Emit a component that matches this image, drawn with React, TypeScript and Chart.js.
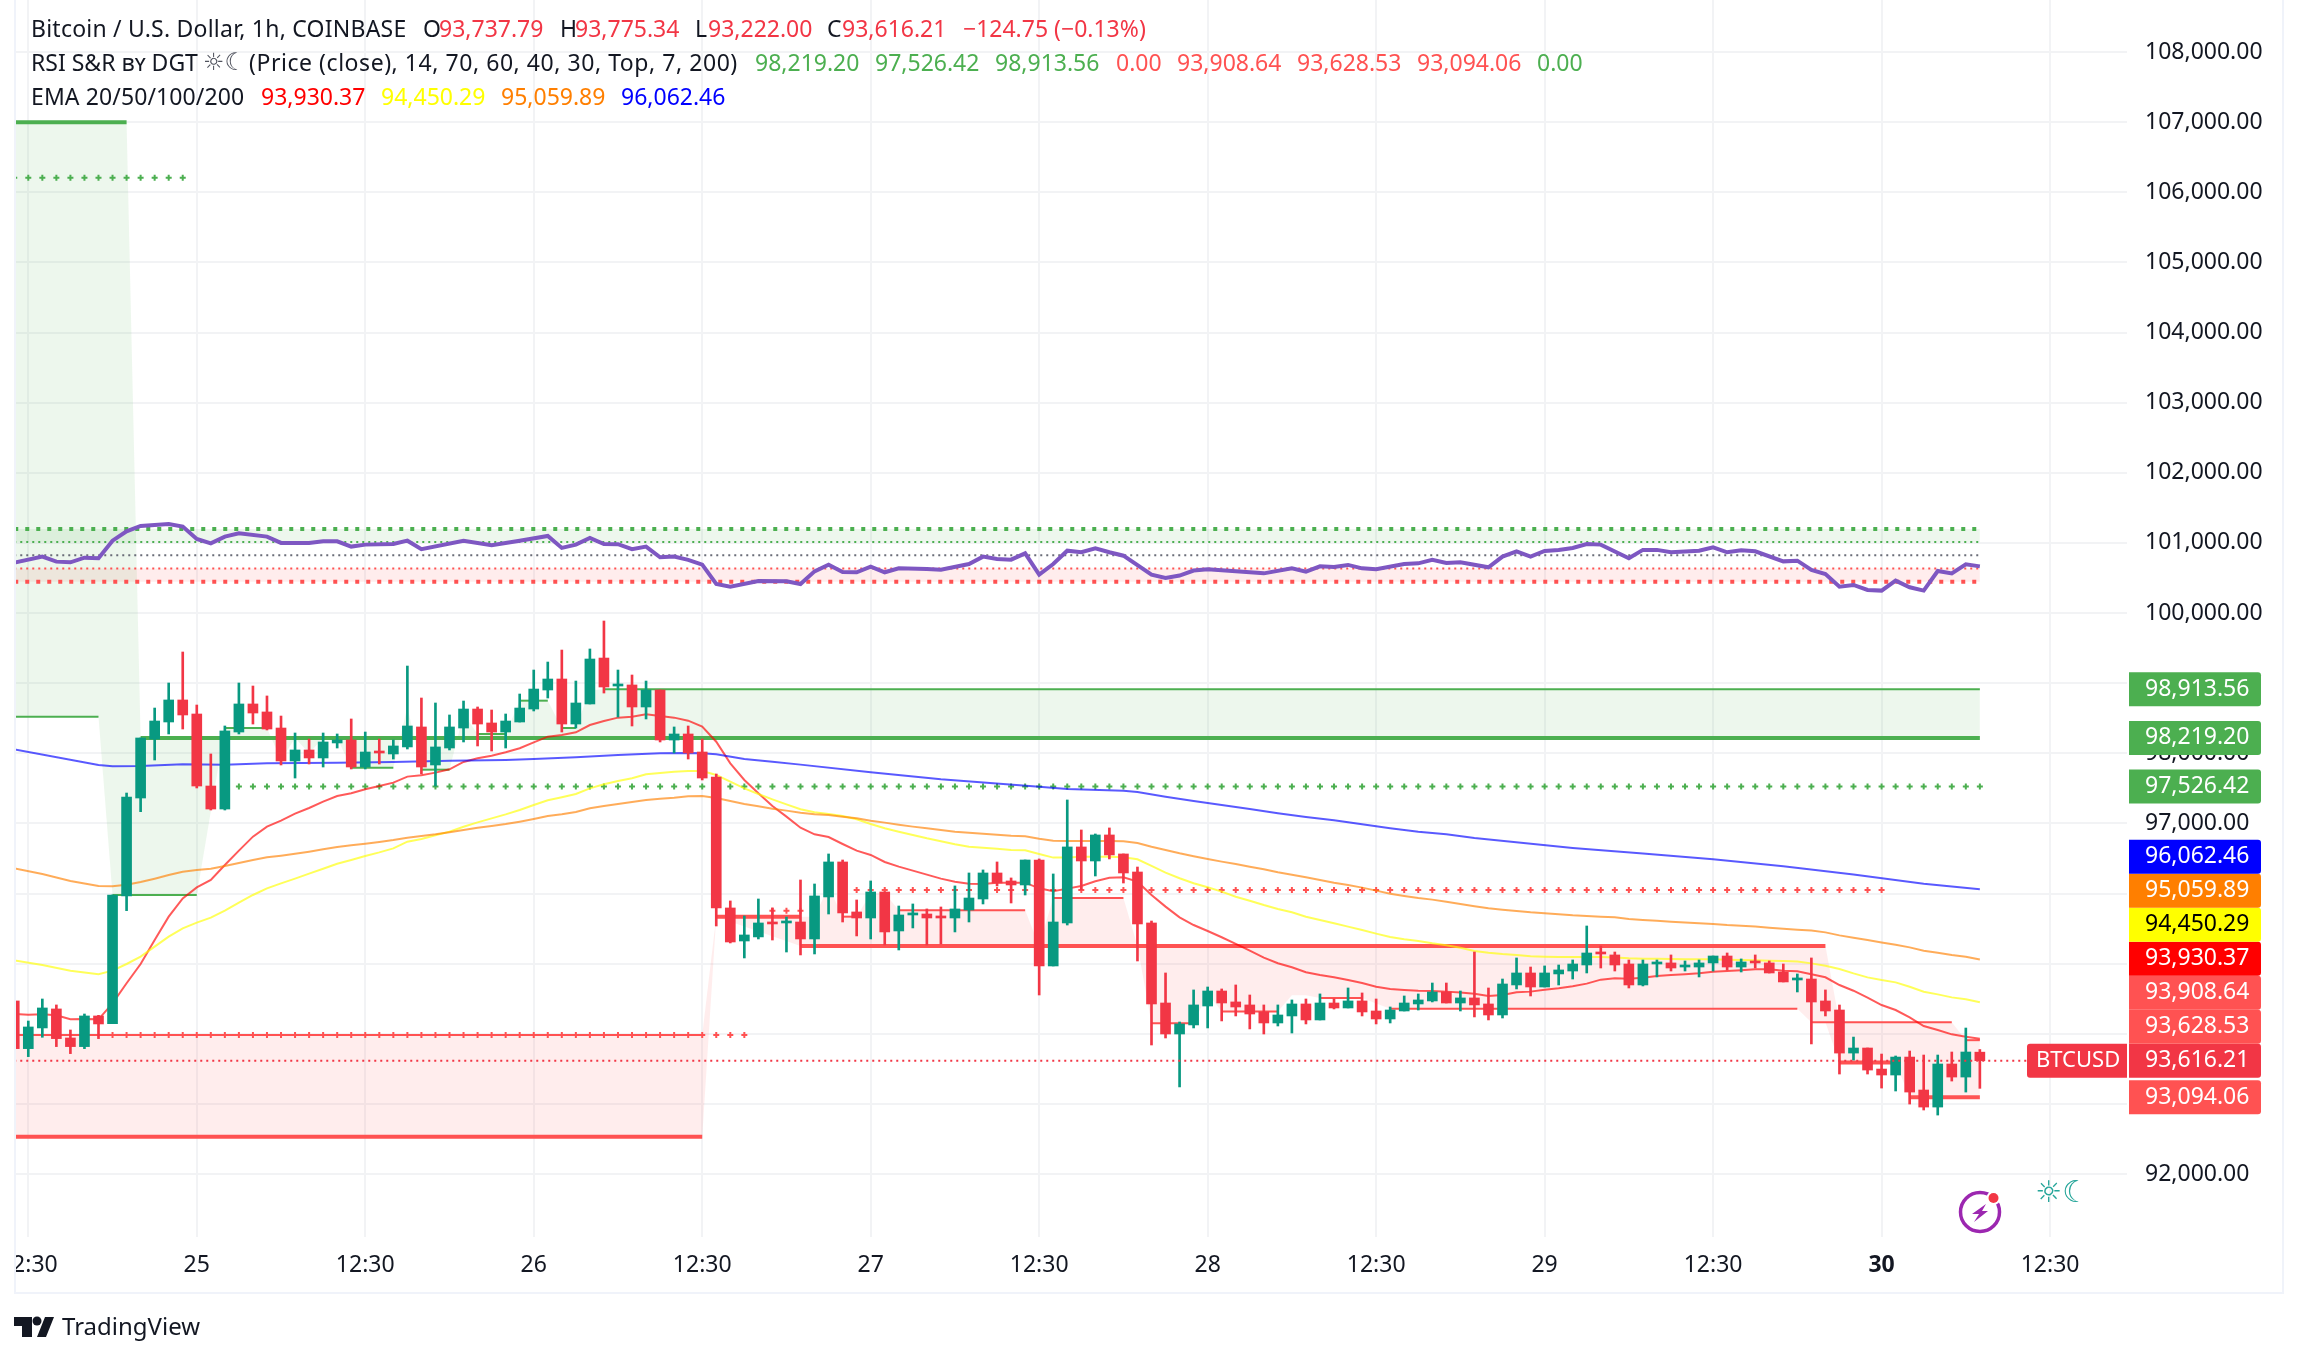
import React, { useEffect, useRef } from 'react';
import { Chart, registerables } from 'chart.js';

Chart.register(...registerables);

const FONT = '"Noto Sans"';
const INK = '#131722';
const UP = '#089981';
const DOWN = '#F23645';
const GREEN = '#4CAF50';
const RED = '#FF5252';
const GRID = '#F2F3F5';
const GREEN_FILL = 'rgba(76,175,80,0.1)';
const RED_FILL = 'rgba(255,82,82,0.1)';

// hourly candles, first one sits at bar -1 (cut off by the left edge)
const opens = [
  94468,93788,94083,94354,93940,93817,94254,94144,95965,97362,
  98203,98446,98760,98560,97533,97205,98303,98703,98589,98360,
  97890,98047,97933,98147,98189,97804,98032,97990,98090,98375,
  97833,98075,98360,98631,98432,98303,98446,98631,98902,99059,
  98417,98703,99358,98959,98974,98660,98902,98189,98275,98018,
  97662,95794,95323,95381,95594,95580,95594,95352,95951,96450,
  95737,95651,96022,95466,95694,95708,95680,95651,95765,95922,
  96293,96179,96122,96478,94967,95580,96664,96464,96835,96564,
  96307,95580,94439,93997,94126,94396,94610,94454,94411,94311,
  94154,94254,94425,94197,94439,94368,94468,94325,94211,94325,
  94425,94468,94596,94439,94511,94425,94268,94696,94867,94667,
  94853,94895,94981,95166,95124,94995,94696,94995,95010,94952,
  94952,95010,95109,94952,95038,95010,94881,94767,94781,94468,
  94339,93725,93797,93497,93412,93668,93198,92955,93569,93383,93737.79,
];
const highs = [
  94468,94182,94496,94411,94054,94282,94263,95979,97433,98218,
  98645,99002,99444,98688,97990,98389,99002,98959,98817,98531,
  98289,98203,98289,98275,98489,98303,98203,98189,99244,98788,
  98717,98546,98745,98660,98617,98560,98845,99187,99301,99472,
  99030,99487,99886,99187,99116,99030,98902,98375,98389,98203,
  97704,95894,95680,95922,95794,95665,96193,96136,96564,96478,
  95908,96179,96022,95822,95851,95780,95808,96108,96293,96336,
  96450,96222,96478,96493,96279,97334,96906,96849,96935,96564,
  96378,95608,94867,94168,94625,94667,94639,94696,94553,94411,
  94411,94482,94496,94568,94496,94653,94582,94496,94382,94539,
  94568,94724,94724,94610,95166,94653,94781,95081,94952,94967,
  94981,95052,95537,95252,95166,95052,95052,95052,95124,95038,
  95052,95109,95152,95067,95124,95038,94995,94853,95081,94625,
  94410,93953,93797,93711,93683,93754,93697,93697,93740,94082,93775.34,
];
const lows = [
  93788,93674,93950,93817,93717,93788,93931,94144,95756,97167,
  97904,98275,98346,97505,97191,97191,98275,98417,98332,97833,
  97647,97847,97804,98075,97776,97776,97847,97918,98061,97704,
  97533,98047,98161,98104,98032,98075,98446,98603,98788,98303,
  98360,98703,98859,98517,98389,98489,98161,98004,97918,97619,
  95537,95295,95081,95352,95337,95166,95124,95138,95708,95594,
  95395,95352,95266,95195,95509,95266,95281,95452,95594,95851,
  96108,95865,95979,94553,94967,95551,96051,96250,96493,96150,
  95038,93840,93940,93242,94083,94083,94183,94254,94069,93997,
  94111,94011,94140,94197,94354,94368,94254,94140,94154,94325,
  94339,94454,94439,94325,94240,94197,94225,94639,94539,94667,
  94696,94781,94867,94938,94895,94653,94682,94810,94895,94895,
  94810,94895,94910,94881,94938,94867,94739,94596,93855,94254,
  93426,93626,93426,93226,93184,92998,92913,92841,93326,93169,93222,
];
const closes = [
  93788,94097,94368,93931,93817,94254,94140,95979,97376,98218,
  98460,98760,98546,97533,97205,98318,98703,98574,98346,97890,
  98047,97933,98161,98189,97804,98018,98004,98104,98389,97804,
  98090,98375,98631,98417,98303,98460,98645,98916,99059,98417,
  98717,99344,98945,98988,98660,98902,98189,98275,98004,97647,
  95794,95309,95409,95580,95566,95608,95352,95965,96450,95723,
  95651,96022,95452,95694,95723,95651,95651,95780,95936,96293,
  96150,96122,96478,94967,95594,96664,96464,96835,96550,96293,
  95566,94425,93997,94140,94411,94610,94439,94382,94282,94154,
  94268,94425,94197,94439,94368,94468,94311,94211,94339,94439,
  94482,94596,94439,94511,94411,94268,94710,94867,94667,94867,
  94910,94995,95152,95138,94981,94696,94995,95024,94938,94981,
  95010,95109,94952,95024,95010,94867,94739,94796,94453,94325,
  93725,93797,93483,93412,93668,93169,92955,93569,93383,93740,93616.21,
];

// EMA 20 has a reading for every bar, starting at bar -1
const ema20 = [
  94282,94273,94278,94263,94206,94211,94206,94434,94720,94995,
  95337,95670,95931,96088,96193,96407,96611,96811,96953,97039,
  97139,97220,97310,97391,97429,97486,97533,97581,97667,97686,
  97724,97771,97876,97928,97966,98014,98071,98156,98237,98261,
  98299,98403,98460,98508,98522,98556,98531,98508,98465,98379,
  98165,97857,97619,97429,97248,97096,96939,96844,96806,96706,
  96611,96550,96450,96383,96326,96269,96212,96169,96141,96136,
  96155,96155,96155,96074,96032,96070,96108,96174,96226,96231,
  96169,95979,95813,95661,95551,95466,95376,95281,95185,95086,
  95005,94948,94877,94838,94805,94767,94724,94672,94639,94625,
  94615,94610,94601,94587,94572,94539,94553,94591,94601,94629,
  94648,94677,94715,94772,94791,94786,94800,94824,94838,94848,
  94862,94886,94895,94905,94919,94919,94900,94891,94848,94805,
  94695,94614,94514,94410,94339,94234,94110,94053,93992,93958,93930.37,
];

// EMA 50 and 100 read at bars -1, 1, 3, then every bar from 5
const emaHeadBars = [-1, 1, 3];
const ema50 = [
  95048,94981,94900,
  94848,94900,94995,95100,95242,95385,95504,95585,95656,95756,
  95870,95979,96074,96145,96212,96283,96354,96425,96478,96535,
  96587,96644,96739,96778,96830,96882,96953,97015,97072,97129,
  97191,97262,97329,97372,97419,97500,97557,97605,97643,97700,
  97719,97738,97747,97747,97690,97595,97500,97419,97343,97272,
  97201,97158,97134,97106,97058,96992,96930,96882,96835,96787,
  96744,96702,96668,96654,96640,96621,96616,96564,96512,96512,
  96526,96526,96526,96516,96488,96393,96298,96217,96146,96089,
  96027,95955,95898,95836,95780,95732,95670,95623,95575,95528,
  95480,95428,95380,95347,95323,95290,95262,95228,95181,95157,
  95138,95124,95105,95100,95095,95095,95095,95095,95086,95076,
  95071,95071,95067,95062,95062,95062,95057,95052,95048,95043,
  95038,95029,95004,94971,94923,94861,94804,94766,94733,94671,
  94600,94562,94519,94491,94450.29,
];
const ema100 = [
  96359,96278,96179,
  96107,96102,96126,96164,96212,96264,96311,96335,96354,96392,
  96435,96478,96516,96540,96568,96597,96630,96663,96687,96711,
  96735,96763,96796,96820,96844,96873,96906,96939,96963,96991,
  97025,97063,97105,97129,97163,97215,97248,97277,97305,97334,
  97353,97367,97386,97391,97362,97319,97277,97244,97210,97182,
  97153,97129,97120,97096,97072,97039,97011,96982,96954,96930,
  96906,96882,96868,96854,96839,96825,96816,96782,96754,96749,
  96749,96749,96749,96744,96721,96668,96621,96573,96531,96493,
  96455,96421,96383,96345,96302,96269,96231,96193,96155,96122,
  96084,96041,95998,95965,95936,95913,95884,95851,95818,95789,
  95770,95751,95732,95718,95703,95689,95680,95670,95661,95637,
  95623,95613,95599,95585,95575,95566,95551,95542,95528,95513,
  95499,95485,95471,95446,95403,95370,95337,95303,95270,95232,
  95185,95156,95123,95099,95059.89,
];
const ema200Bars = [-1,5,6,8,11,14,17,22,26,30,34,36,39,42,45,47,48,49,51,53,55,60,65,72,74,78,79,81,83,85,87,89,91,93,95,97,99,101,103,110,115,120,125,130,135,139];
const ema200 = [98056,97833,97814,97818,97842,97838,97857,97866,97875,97895,97905,97918,97942,97975,97999,98004,97999,97985,97918,97880,97838,97730,97630,97524,97491,97467,97448,97381,97320,97263,97206,97144,97091,97044,96987,96930,96882,96844,96792,96650,96570,96490,96390,96270,96140,96062.46];

// RSI readings, overlaid on the price pane
const rsiBars = [-1,1,2,3,4,5,6,7,8,10,11,12,13,14,15,17,18,20,21,22,23,24,26,27,28,31,33,35,37,38,39,40,41,42,43,44,45,46,47,48,49,50,52,54,55,56,57,58,59,60,61,62,64,65,67,68,69,70,71,72,73,74,75,76,77,78,80,81,82,83,84,88,90,91,92,93,94,95,96,98,99,100,101,102,104,105,106,107,108,109,110,111,112,114,115,116,117,119,120,121,122,123,125,126,127,128,129,130,131,132,133,134,135,136,137,138,139];
const rsiValues = [44.4,49,45.2,44.7,48.2,47.7,61.1,68.2,72.3,73.8,71.8,62.4,59.1,64.2,66.7,64.2,59.4,59.4,60.6,60.6,56.6,58.1,58.6,61.1,54.6,61.1,57.6,61.1,64.7,55.6,58.1,63.2,58.6,58.4,54.6,56.6,48.5,49,46.5,42.9,28.2,26.2,30.5,30.3,28.2,37.8,42.9,37.3,37.1,41.4,37.1,40.1,39.6,39.1,43.4,49,47.2,46.7,51.5,35.3,43.4,53.5,52.3,55.3,52.3,49.7,35.3,32.8,34.6,38.4,39.4,36.3,40.1,37.6,41.6,41.1,42.7,40.1,39.4,43.4,43.9,46.5,44.2,44.7,40.9,49,53,49,53.3,54.1,55.6,58.6,58.1,47.7,54.1,54.1,52.3,53.5,56.1,52.3,53.8,53,45.4,45.9,38.9,35.8,26.2,27.5,23.7,23.2,30.8,25.7,23.2,38.1,36.3,43.2,41.6];
const rsiLevels = [70, 60, 50, 40, 30];

// support / resistance zones
const greenZoneBars = [-1,5,6,7,8,12,14,17,18,19,20,21,22,23,26,27,28,30,31,32,34,35,37,38,39,40,41,139];
const greenZoneTop = [107000,107000,107000,107000,98219.2,98219.2,98219.2,98219.2,98219.2,98219.2,98219.2,98219.2,98219.2,98219.2,98219.2,98219.2,98219.2,98219.2,98219.2,98219.2,98219.2,98219.2,98219.2,98219.2,98219.2,98219.2,98219.2,98219.2];
const greenZoneLow = [98522,98522,95979,95979,95979,95979,98360,98360,97903,98219,98000,98219,98219,97795,97795,98664,97766,97766,98560,98275,98275,98750,98750,98360,98360,98900,98913.56,98913.56];

const redZoneBars = [-1,48,49,55,56,57,58,59,60,61,62,71,72,73,78,79,80,83,84,85,89,90,91,92,95,96,97,126,127,128,129,133,134,137,138,139];
const redZoneTop = [93983,93983,95670,95670,95670,96098,95670,95670,96003,96003,95761,95761,95252,95936,95936,95252,95252,95252,95252,95252,95252,95252,95252,95252,95252,95252,95252,95252,95252,95252,94163,94163,94163,94163,93908.64,93908.64];
const redZoneLow = [92530,92530,95670,95252,95252,95252,95252,95252,95252,95252,95252,95252,95252,95252,95252,95252,94149,94149,94577,94316,94316,94550,94550,94511,94511,94430,94358,94358,94163,94163,93592,93592,93094.06,93094.06,93094.06,93094.06];

const greenThick = [[-1, 7, 107000], [8, 139, 98219.2]];
const greenThin = [[-1, 5, 98522], [6, 12, 95979], [14, 17, 98360], [23, 26, 97795], [28, 30, 97766], [32, 34, 98275], [35, 37, 98750], [38, 39, 98360], [41, 139, 98913.56]];
const redThick = [[-1, 48, 92530], [49, 55, 95670], [55, 128, 95252], [129, 133, 93592], [134, 139, 93094.06]];
const redThin = [[-1, 48, 93983], [58, 59, 95670], [62, 71, 95761], [73, 78, 95936], [80, 83, 94149], [85, 89, 94316], [92, 95, 94511], [97, 126, 94358], [127, 137, 94163], [138, 139, 93908.64]];

// dotted rows of crosses: first bar, last bar, price
const greenCrosses = [[-1, 11, 106208], [15, 139, 97526.42]];
const redCrosses = [[6, 51, 93983], [53, 55, 95756], [59, 132, 96050]];

const lastPrice = 93616.21;
const priceTicks = [92000,93000,94000,95000,96000,97000,98000,99000,100000,101000,102000,103000,104000,105000,106000,107000,108000];
const timeTickBars = [0,12,24,36,48,60,72,84,96,108,120,132,144];
const timeLabels = ['12:30','25','12:30','26','12:30','27','12:30','28','12:30','29','12:30','30','12:30'];

// axis tags, low to high: price, box colour, text colour
const tagRows = [
  [93094.06, RED, '#fff'],
  [93616.21, DOWN, '#fff'],
  [93628.53, RED, '#fff'],
  [93908.64, RED, '#fff'],
  [93930.37, '#FF0000', '#fff'],
  [94450.29, '#FFFF00', '#000'],
  [95059.89, '#FF7F00', '#fff'],
  [96062.46, '#0000FF', '#fff'],
  [97526.42, GREEN, '#fff'],
  [98219.2, GREEN, '#fff'],
  [98913.56, GREEN, '#fff'],
] as [number, string, string][];

// text, x, y, colour, letter spacing
const headerRows = [
  ['Bitcoin / U.S. Dollar, 1h, COINBASE', 31, 30, INK, 0.23],
  ['O', 423, 30, INK, 0], ['93,737.79', 439, 30, DOWN, 0],
  ['H', 560, 30, INK, 0], ['93,775.34', 575, 30, DOWN, 0],
  ['L', 695, 30, INK, 0], ['93,222.00', 708, 30, DOWN, 0],
  ['C', 827, 30, INK, 0], ['93,616.21', 842, 30, DOWN, 0],
  ['\u2212124.75 (\u22120.13%)', 963, 30, DOWN, 0],
  ['RSI S&R \u0299\u028f DGT', 31, 64, INK, 0],
  ['(Price (close), 14, 70, 60, 40, 30, Top, 7, 200)', 249, 64, INK, 0.55],
  ['98,219.20', 755, 64, GREEN, 0], ['97,526.42', 875, 64, GREEN, 0], ['98,913.56', 995, 64, GREEN, 0],
  ['0.00', 1116, 64, RED, 0], ['93,908.64', 1177, 64, RED, 0], ['93,628.53', 1297, 64, RED, 0],
  ['93,094.06', 1417, 64, RED, 0], ['0.00', 1537, 64, GREEN, 0],
  ['EMA 20/50/100/200', 31, 98, INK, 0.1],
  ['93,930.37', 261, 98, '#FF0000', 0], ['94,450.29', 381, 98, '#FFFF00', 0],
  ['95,059.89', 501, 98, '#FF7F00', 0], ['96,062.46', 621, 98, '#0000FF', 0],
] as [string, number, number, string, number][];

const rsiToPrice = (rsi: number) => 100823 + (rsi - 50) * 18.79;
const money = (v: number) => v.toLocaleString('en-US', { minimumFractionDigits: 2, maximumFractionDigits: 2 });

const overlay = {
  id: 'overlay',
  beforeDraw(chart: any) {
    const { ctx, width, height } = chart;
    ctx.save();
    ctx.fillStyle = '#fff';
    ctx.fillRect(0, 0, width, height);
    ctx.restore();
  },
  afterDraw(chart: any) {
    const { ctx, height } = chart;
    const y = chart.scales.y;
    ctx.save();

    // left edge cuts the first time label
    ctx.fillStyle = '#fff';
    ctx.fillRect(0, 0, 14, height);
    ctx.fillStyle = '#F0F3FA';
    ctx.fillRect(14, 0, 2, 1294);
    ctx.fillRect(14, 1292, 2270, 2);
    ctx.fillRect(2282, 0, 2, 1294);

    ctx.textBaseline = 'middle';
    ctx.font = `23px ${FONT}`;
    headerRows.forEach(([text, x, rowY, color, spacing]) => {
      ctx.letterSpacing = `${spacing}px`;
      ctx.fillStyle = color;
      ctx.fillText(text, x, rowY);
    });
    ctx.letterSpacing = '0px';
    ctx.fillStyle = '#50535E';
    ctx.font = '24px "DejaVu Sans"';
    ctx.fillText('\u263c\u263e', 203, 64);

    // price tags push each other upward when they would overlap
    ctx.font = `23px ${FONT}`;
    let prev = Infinity;
    tagRows.forEach(([value, bg, fg]) => {
      const cy = Math.min(y.getPixelForValue(value), prev - 34);
      prev = cy;
      ctx.fillStyle = bg;
      ctx.beginPath();
      ctx.roundRect(2129, cy - 17, 132, 34, [0, 3, 3, 0]);
      ctx.fill();
      ctx.fillStyle = fg;
      ctx.fillText(money(value), 2145, cy);
    });

    const py = y.getPixelForValue(lastPrice);
    ctx.fillStyle = DOWN;
    ctx.beginPath();
    ctx.roundRect(2027, py - 17, 100, 34, [3, 0, 0, 3]);
    ctx.fill();
    ctx.fillStyle = '#fff';
    ctx.font = `22px ${FONT}`;
    ctx.fillText('BTCUSD', 2036, py);

    // sun and moon mark
    ctx.fillStyle = '#26A69A';
    ctx.font = '30px "DejaVu Sans"';
    ctx.textAlign = 'center';
    ctx.fillText('\u263c\u263e', 2062, 1194);
    ctx.textAlign = 'left';

    // purple bolt badge
    ctx.strokeStyle = '#9C27B0';
    ctx.lineWidth = 3.5;
    ctx.beginPath();
    ctx.arc(1980, 1212, 19.5, 0, Math.PI * 2);
    ctx.stroke();
    ctx.fillStyle = '#9C27B0';
    ctx.beginPath();
    [[1986, 1204], [1972, 1214], [1979, 1214], [1974, 1222], [1988, 1211], [1982, 1211]].forEach(([a, b], i) => (i ? ctx.lineTo(a, b) : ctx.moveTo(a, b)));
    ctx.closePath();
    ctx.fill();
    ctx.fillStyle = '#fff';
    ctx.beginPath();
    ctx.arc(1993.5, 1198, 7, 0, Math.PI * 2);
    ctx.fill();
    ctx.fillStyle = DOWN;
    ctx.beginPath();
    ctx.arc(1993.5, 1198, 5, 0, Math.PI * 2);
    ctx.fill();

    // TradingView logo
    ctx.fillStyle = INK;
    ctx.fillRect(14, 1317, 18, 9);
    ctx.fillRect(22, 1317, 10, 20);
    ctx.beginPath();
    ctx.arc(37, 1321, 4.5, 0, Math.PI * 2);
    ctx.fill();
    ctx.beginPath();
    ctx.moveTo(45, 1317);
    ctx.lineTo(54, 1317);
    ctx.lineTo(46, 1337);
    ctx.lineTo(37, 1337);
    ctx.closePath();
    ctx.fill();
    ctx.font = `24px ${FONT}`;
    ctx.fillText('TradingView', 62, 1328);
    ctx.restore();
  },
};

const levelSegment = ([from, to, value]: number[], color: string, width: number, order: number, dash: number[] = []) => ({
  type: 'line',
  data: [{ x: from, y: value }, { x: to, y: value }],
  borderColor: color,
  borderWidth: width,
  borderDash: dash,
  pointRadius: 0,
  order,
});

const curve = (bars: number[], values: number[], color: string, width: number, order: number) => ({
  type: 'line',
  data: bars.map((x, i) => ({ x, y: values[i] })),
  borderColor: color,
  borderWidth: width,
  pointRadius: 0,
  tension: 0,
  order,
});

const crossRow = ([from, to, value]: number[], color: string, order: number) => {
  const data: { x: number; y: number }[] = [];
  for (let x = from; x <= to; x++) data.push({ x, y: value });
  return {
    type: 'line',
    data,
    showLine: false,
    pointStyle: 'cross',
    pointRadius: 3,
    pointBorderWidth: 2,
    pointBorderColor: color,
    order,
  };
};

const buildDatasets = () => {
  const sets: any[] = [];
  const bars = opens.map((_, i) => i - 1);
  const tailBars: number[] = [];
  for (let b = 5; b <= 139; b++) tailBars.push(b);

  // filled band between two curves, the lower curve is the fill target
  const band = (xs: number[], top: number[], low: number[], color: string, order: number) => {
    const target = sets.length + 1;
    sets.push({ ...curve(xs, top, 'rgba(0,0,0,0)', 0, order), fill: { target, above: color, below: color } });
    sets.push(curve(xs, low, 'rgba(0,0,0,0)', 0, order));
  };

  band(greenZoneBars, greenZoneTop, greenZoneLow, GREEN_FILL, 30);
  band(redZoneBars, redZoneTop, redZoneLow, RED_FILL, 30);
  band([-1, 139], [rsiToPrice(70), rsiToPrice(70)], [rsiToPrice(60), rsiToPrice(60)], GREEN_FILL, 30);
  band([-1, 139], [rsiToPrice(40), rsiToPrice(40)], [rsiToPrice(30), rsiToPrice(30)], RED_FILL, 30);

  greenThick.forEach((s) => sets.push(levelSegment(s, GREEN, 4, 20)));
  greenThin.forEach((s) => sets.push(levelSegment(s, GREEN, 2, 20)));
  redThick.forEach((s) => sets.push(levelSegment(s, RED, 4, 20)));
  redThin.forEach((s) => sets.push(levelSegment(s, RED, 2, 20)));
  greenCrosses.forEach((s) => sets.push(crossRow(s, GREEN, 18)));
  redCrosses.forEach((s) => sets.push(crossRow(s, RED, 18)));

  rsiLevels.forEach((level) => {
    const seg = [-1, 139, rsiToPrice(level)];
    if (level === 70) sets.push(levelSegment(seg, GREEN, 4, 16, [4, 7]));
    if (level === 60) sets.push(levelSegment(seg, GREEN, 2, 16, [2, 4]));
    if (level === 50) sets.push(levelSegment(seg, '#6A6D78', 2, 16, [2, 4]));
    if (level === 40) sets.push(levelSegment(seg, RED, 2, 16, [2, 4]));
    if (level === 30) sets.push(levelSegment(seg, RED, 4, 16, [4, 7]));
  });

  sets.push(curve(ema200Bars, ema200, 'rgba(0,0,255,0.65)', 2, 12));
  sets.push(curve(emaHeadBars.concat(tailBars), ema100, 'rgba(255,127,0,0.65)', 2, 12));
  sets.push(curve(emaHeadBars.concat(tailBars), ema50, 'rgba(255,255,0,0.65)', 2, 12));
  sets.push(curve(bars, ema20, 'rgba(255,0,0,0.65)', 2, 12));
  sets.push(curve(rsiBars, rsiValues.map(rsiToPrice), '#7E57C2', 4, 11));

  const colors = opens.map((o, i) => (closes[i] >= o ? UP : DOWN));
  sets.push({
    type: 'bar',
    data: bars.map((x, i) => ({ x, y: [lows[i], highs[i]] })),
    backgroundColor: colors,
    barThickness: 2,
    grouped: false,
    order: 6,
  });
  sets.push({
    type: 'bar',
    data: bars.map((x, i) => ({ x, y: [opens[i], closes[i]] })),
    backgroundColor: colors,
    barThickness: 10,
    minBarLength: 2,
    grouped: false,
    order: 5,
  });

  sets.push(levelSegment([-1, 142.4, lastPrice], DOWN, 2, 1, [2, 4]));
  return sets;
};

const App = () => {
  const canvasRef = useRef<HTMLCanvasElement>(null);

  useEffect(() => {
    if (!canvasRef.current) return;
    const chart = new Chart(canvasRef.current, {
      type: 'line',
      data: { datasets: buildDatasets() },
      plugins: [overlay],
      options: {
        animation: false,
        responsive: false,
        devicePixelRatio: 1,
        events: [],
        layout: { autoPadding: false, padding: { left: 15, right: 0, top: 0, bottom: 0 } },
        plugins: { legend: { display: false }, tooltip: { enabled: false } },
        scales: {
          x: {
            type: 'linear',
            min: -0.947,
            max: 149.48,
            offset: false,
            grid: { color: GRID, lineWidth: 2, drawTicks: false, offset: false },
            border: { display: false },
            afterBuildTicks: (scale: any) => {
              scale.ticks = timeTickBars.map((value) => ({ value }));
            },
            afterFit: (scale: any) => {
              scale.height = 126;
              scale.paddingLeft = 0;
              scale.paddingRight = 0;
            },
            ticks: {
              autoSkip: false,
              maxRotation: 0,
              padding: 15,
              color: INK,
              font: (ctx: any) => ({ family: FONT, size: 23, weight: timeLabels[ctx.index] === '30' ? 'bold' : 'normal' }),
              callback: (_: any, index: number) => timeLabels[index],
            },
          },
          y: {
            type: 'linear',
            position: 'right',
            min: 91102,
            max: 108741.5,
            beginAtZero: false,
            grid: { color: GRID, lineWidth: 2, drawTicks: false },
            border: { display: false },
            afterBuildTicks: (scale: any) => {
              scale.ticks = priceTicks.map((value) => ({ value }));
            },
            afterFit: (scale: any) => {
              scale.width = 176;
              scale.paddingTop = 0;
              scale.paddingBottom = 0;
            },
            ticks: {
              autoSkip: false,
              padding: 18,
              color: INK,
              font: { family: FONT, size: 23 },
              callback: (value: any) => money(Number(value)),
            },
          },
        },
      } as any,
    });
    return () => {
      chart.destroy();
    };
  }, []);

  return (
    <div style={{ position: 'fixed', left: 0, top: 0, width: 2303, height: 1363, background: '#fff' }}>
      <canvas ref={canvasRef} width={2303} height={1363} style={{ display: 'block' }} />
    </div>
  );
};

export default App;
